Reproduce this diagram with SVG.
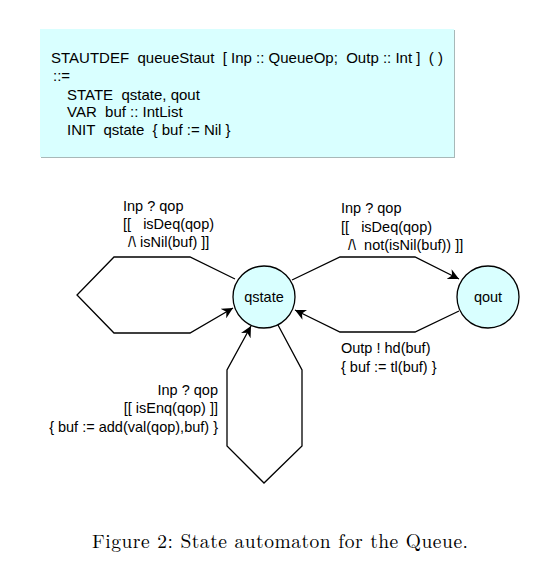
<svg xmlns="http://www.w3.org/2000/svg" width="559" height="579" viewBox="0 0 559 579">
<style>
.t{font-family:"Liberation Sans",Arial,sans-serif;font-size:14.5px;fill:#000}
.n{font-family:"Liberation Sans",Arial,sans-serif;font-size:14.5px;fill:#000}
.d{font-family:"Liberation Sans",Arial,sans-serif;font-size:15px;fill:#000}
.st{fill:#d9ffff;stroke:#000;stroke-width:1.3}
.e{fill:none;stroke:#000;stroke-width:1.3}
.cap{font-family:"Latin Modern Roman","Liberation Serif",serif;font-size:19.5px;fill:#000}
</style>
<defs>
<marker id="ah" viewBox="0 0 10 10" refX="10" refY="5" markerWidth="11" markerHeight="11" markerUnits="userSpaceOnUse" orient="auto">
<path d="M0,0 L10,5 L0,10 L3,5 z" fill="#000"/>
</marker>
</defs>
<rect width="559" height="579" fill="#fff"/>
<g id="defbox">
<rect x="41" y="30" width="414" height="128" fill="#a8b8b8"/>
<rect x="40" y="29" width="414" height="128" fill="#d9ffff"/>
<text class="d" xml:space="preserve"><tspan x="51" y="63" textLength="392">STAUTDEF  queueStaut  [ Inp :: QueueOp;  Outp :: Int ]  ( )</tspan><tspan x="53" y="81">::=</tspan><tspan x="67" y="100">STATE  qstate, qout</tspan><tspan x="67" y="117">VAR  buf :: IntList</tspan><tspan x="67" y="135">INIT  qstate  { buf := Nil }</tspan></text>
</g>
<g id="connectors">
<polyline class="e" points="235,279 190,257 114,257 77,295 114,333 190,333 233,308" marker-end="url(#ah)"/>
<polyline class="e" points="292,280 340,257 415,257 459,279" marker-end="url(#ah)"/>
<polyline class="e" points="459,311 415,332 340,332 295,310" marker-end="url(#ah)"/>
<polyline class="e" points="278,325 302,370 302,446 264,483 227,446 227,370 251,326" marker-end="url(#ah)"/>
</g>
<g id="labels">
<text class="t" xml:space="preserve"><tspan x="123" y="211">Inp ? qop</tspan><tspan x="123" y="229">[[   isDeq(qop)</tspan><tspan x="128" y="247">/\ isNil(buf) ]]</tspan></text>
<text class="t" xml:space="preserve"><tspan x="341" y="213">Inp ? qop</tspan><tspan x="341" y="232">[[   isDeq(qop)</tspan><tspan x="348" y="250">/\  not(isNil(buf)) ]]</tspan></text>
<text class="t" xml:space="preserve"><tspan x="341" y="353">Outp ! hd(buf)</tspan><tspan x="341" y="372">{ buf := tl(buf) }</tspan></text>
<text class="t" text-anchor="end"><tspan x="218" y="395">Inp ? qop</tspan><tspan x="218" y="413">[[ isEnq(qop) ]]</tspan><tspan x="218" y="432">{ buf := add(val(qop),buf) }</tspan></text>
</g>
<g id="qstate">
<circle class="st" cx="264" cy="297" r="31"/>
<text class="n" x="264" y="302" text-anchor="middle">qstate</text>
</g>
<g id="qout">
<circle class="st" cx="488" cy="297" r="31"/>
<text class="n" x="488" y="302" text-anchor="middle">qout</text>
</g>
<text class="cap" x="92" y="548" textLength="376">Figure 2: State automaton for the Queue.</text>
</svg>
